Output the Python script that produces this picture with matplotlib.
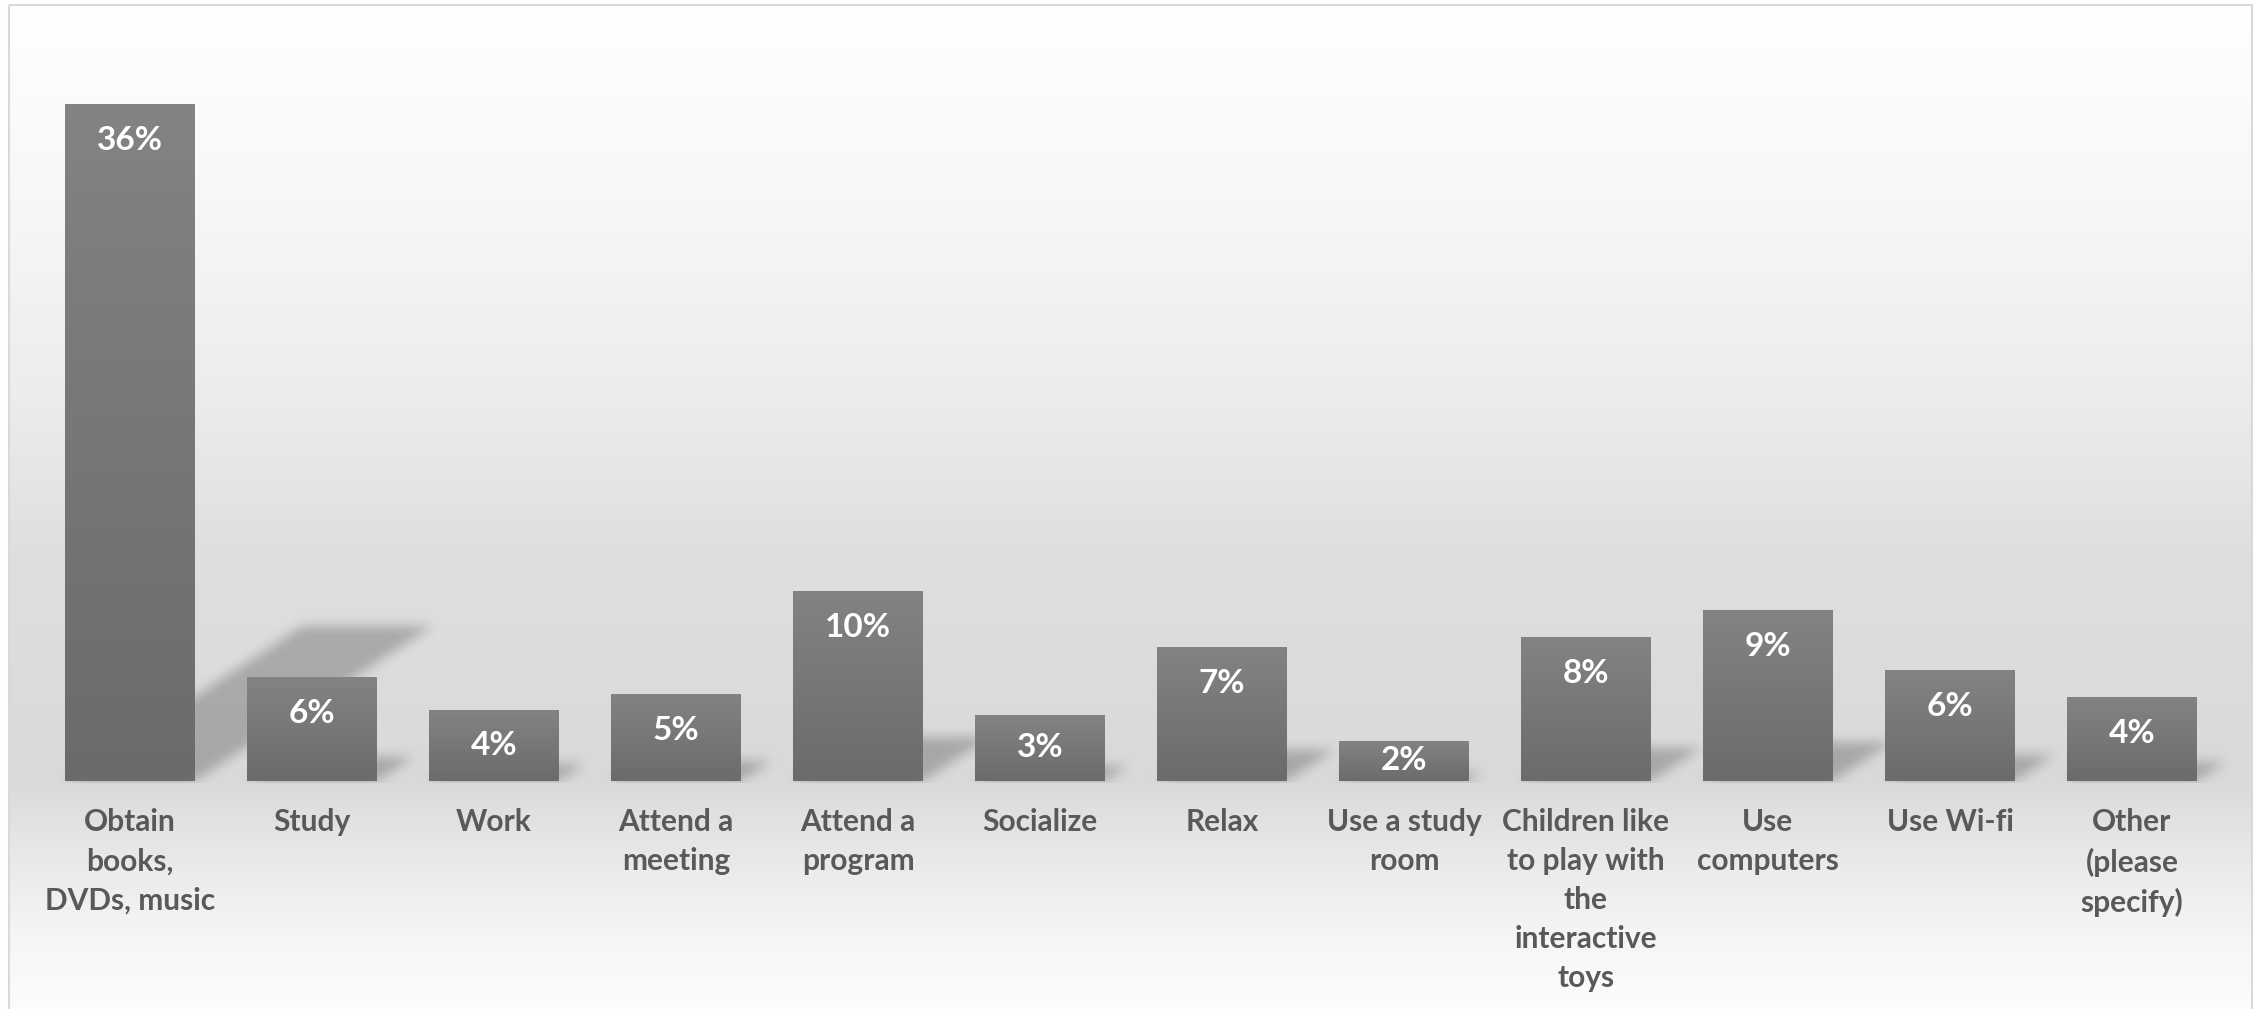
import matplotlib
matplotlib.use('Agg')
import matplotlib.pyplot as plt
import numpy as np
from matplotlib.colors import LinearSegmentedColormap
from matplotlib.patches import Rectangle

plt.rcParams['font.family'] = ['Lato', 'DejaVu Sans']

categories = ['Obtain\nbooks,\nDVDs, music', 'Study', 'Work', 'Attend a\nmeeting',
              'Attend a\nprogram', 'Socialize', 'Relax', 'Use a study\nroom',
              'Children like\nto play with\nthe\ninteractive\ntoys', 'Use\ncomputers',
              'Use Wi-fi', 'Other\n(please\nspecify)']
values = [35.96, 5.52, 3.76, 4.61, 10.08, 3.48, 7.12, 2.11, 7.64, 9.07, 5.88, 4.45]

W, H, DPI = 2259, 1009, 100
fig = plt.figure(figsize=(W / DPI, H / DPI), dpi=DPI)

# background layer in pixel coordinates (y down)
bg = fig.add_axes([0, 0, 1, 1], zorder=0)
bg.set_xlim(0, W)
bg.set_ylim(H, 0)
bg.axis('off')

ax = fig.add_axes([39 / W, 228.3 / H, 2184 / W, 752.8 / H], zorder=1)
ax.patch.set_visible(False)
x = np.arange(len(values))
ax.set_xlim(-0.5, len(values) - 0.5)
ax.set_ylim(0, 40)

# chart area fill: white -> grey at the axis line -> white
rows = np.arange(H)
stops_y = [5, 200, 400, 550, 780, 800, 870, 940, 1009]
stops_v = [255, 247, 236, 223, 217, 222, 235, 246, 252]
shade = np.interp(rows, stops_y, stops_v) / 255.0
grad = np.repeat(shade[:, None], W, axis=1)
bg_rgb = np.dstack([grad, grad, grad])
bg_rgb[:5, :] = 1.0
bg_rgb[:, :9] = 1.0
bg_rgb[:, 2252:] = 1.0
bg.imshow(bg_rgb, extent=[0, W, H, 0], interpolation='nearest', zorder=0)


def box_blur(a, r, passes=3):
    k = 2 * r + 1
    for _ in range(passes):
        p = np.pad(a, ((0, 0), (r + 1, r)), mode='edge')
        c = np.cumsum(p, axis=1)
        a = (c[:, k:] - c[:, :-k]) / k
        p = np.pad(a, ((r + 1, r), (0, 0)), mode='edge')
        c = np.cumsum(p, axis=0)
        a = (c[k:, :] - c[:-k, :]) / k
    return a


# perspective shadows cast behind each bar
width = 0.714
X, Y = np.meshgrid(np.arange(W) + 0.5, rows + 0.5)
mask = np.zeros((H, W))
for xi, v in zip(x, values):
    (px0, py0), (px1, py1) = ax.transData.transform([(xi - width / 2, 0), (xi + width / 2, v)])
    hb = py1 - py0
    yb = H - py0
    yt = yb - 0.229 * hb
    s = 0.352 * hb
    t = np.clip((yb - Y) / (yb - yt), 0, 1)
    inside = (Y >= yt) & (Y <= yb) & (X >= px0 + t * s) & (X <= px1 + t * s)
    mask[inside] = 1.0
base_row = int(round(H - ax.transData.transform((0, 0))[1]))
mask = box_blur(mask, 5)
mask[base_row + 2:, :] = 0
shadow = np.zeros((H, W, 4))
shadow[..., 3] = 0.23 * mask
bg.imshow(shadow, extent=[0, W, H, 0], interpolation='nearest', zorder=1)

bg.add_patch(Rectangle((9, 5), 2243, 1100, fill=False, edgecolor='#d9d9d9', lw=1.5, zorder=2))

# bars with a vertical grey gradient
bar_cmap = LinearSegmentedColormap.from_list('bar', ['#6b6b6d', '#838384'])
bars = ax.bar(x, values, width=width, color='#77777a', zorder=2)
fill = np.linspace(1, 0, 256).reshape(-1, 1)
for rect in bars:
    x0 = rect.get_x()
    im = ax.imshow(fill, extent=[x0, x0 + rect.get_width(), 0, rect.get_height()],
                   aspect='auto', cmap=bar_cmap, vmin=0, vmax=1, origin='upper', zorder=3)
    im.set_clip_path(rect)
ax.set_xlim(-0.5, len(values) - 0.5)
ax.set_ylim(0, 40)

# value labels inside the top of each bar
for xi, v in zip(x, values):
    h_pt = (ax.transData.transform((0, v))[1] - ax.transData.transform((0, 0))[1]) * 72 / DPI
    off = min(26.5, h_pt / 2)
    ax.annotate('{:.0f}%'.format(v), xy=(xi, v), xytext=(0, -off), textcoords='offset points',
                ha='center', va='center', color='white', fontsize=24, fontweight='bold', zorder=4)

ax.set_xticks(x)
ax.set_xticklabels(categories, fontsize=21.5, fontweight='bold', color='#595959', linespacing=1.47)
ax.tick_params(axis='x', length=0, pad=20)
ax.set_yticks([])
for sp in ax.spines.values():
    sp.set_visible(False)

fig.savefig('out.png', dpi=DPI)
